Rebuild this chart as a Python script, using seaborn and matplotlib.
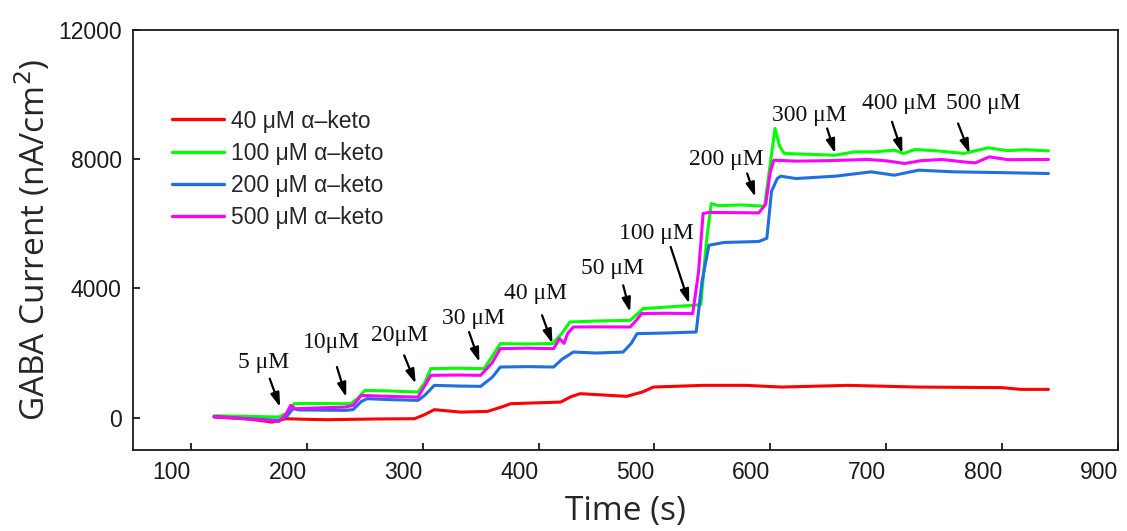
import numpy as np
import pandas as pd
import matplotlib
matplotlib.use("Agg")
import matplotlib.pyplot as plt
import seaborn as sns

# ---------------- data ----------------
series_names = ["40 μM α–keto", "100 μM α–keto", "200 μM α–keto", "500 μM α–keto"]

t_40 = [120, 150, 170, 182, 200, 218, 260, 293, 302, 310, 333, 356, 368, 376, 419,
        428, 436, 476, 490, 499, 542, 579, 610, 667, 727, 800, 816, 840]
v_40 = [20, -40, -136, -31, -50, -62, -40, -31, 100, 248, 173, 195, 330, 433, 483,
        650, 743, 660, 800, 948, 1000, 1000, 948, 1000, 948, 930, 876, 876]

t_100 = [120, 150, 176, 183, 189, 200, 238, 244, 250, 270, 296, 302, 307, 330, 353,
         360, 367, 390, 412, 420, 427, 450, 479, 485, 490, 510, 533, 540, 545, 549,
         555, 575, 595, 599, 604, 608, 612, 630, 656, 673, 690, 707, 715, 725, 745,
         767, 788, 805, 820, 840]
v_100 = [60, 40, 20, 150, 433, 440, 433, 600, 845, 830, 793, 1100, 1517, 1530, 1517,
         1900, 2291, 2280, 2291, 2600, 2960, 2990, 3012, 3200, 3374, 3420, 3477, 3500, 5500, 6625,
         6560, 6580, 6540, 7600, 8947, 8400, 8173, 8150, 8120, 8223, 8223, 8275, 8173, 8297, 8250,
         8173, 8347, 8260, 8290, 8254]

t_200 = [120, 150, 176, 183, 188, 193, 233, 240, 247, 252, 270, 296, 302, 310, 330,
         350, 360, 367, 390, 413, 420, 430, 450, 473, 480, 485, 510, 536, 541, 547,
         560, 590, 597, 601, 606, 609, 622, 656, 687, 707, 728, 759, 800, 840]
v_200 = [30, -30, -85, 50, 279, 240, 226, 250, 500, 588, 560, 536, 700, 1000, 980,
         969, 1250, 1567, 1580, 1567, 1800, 2031, 2000, 2031, 2300, 2600, 2620, 2650, 4200, 5334,
         5420, 5450, 5550, 7000, 7400, 7470, 7398, 7470, 7604, 7501, 7656, 7604, 7580, 7553]

t_500 = [120, 150, 176, 182, 186, 190, 233, 240, 247, 270, 296, 302, 307, 330, 350,
         360, 367, 390, 413, 418, 422, 425, 430, 450, 479, 484, 489, 510, 533, 538,
         542, 547, 590, 596, 600, 603, 622, 650, 684, 700, 716, 730, 748, 770, 777,
         789, 805, 840]
v_500 = [40, -40, -115, 100, 381, 279, 328, 380, 690, 660, 638, 1000, 1310, 1320, 1310,
         1700, 2136, 2150, 2136, 2450, 2300, 2600, 2805, 2810, 2805, 3000, 3220, 3230, 3220, 4500,
         6316, 6350, 6335, 6600, 7600, 7966, 7935, 7950, 7987, 7945, 7863, 7950, 7987, 7900, 7883,
         8068, 7980, 7987]

x_ticks = [100, 200, 300, 400, 500, 600, 700, 800, 900]
y_ticks = [0, 4000, 8000, 12000]

ann_labels = ["5 μM", "10μM", "20μM", "30 μM", "40 μM", "50 μM", "100 μM",
              "200 μM", "300 μM", "400 μM", "500 μM"]
ann_text_xy = [(163, 1721), (221, 2340), (280, 2548), (344, 3065), (397, 3839),
               (464, 4613), (502, 5697), (562, 7988), (634, 9359), (711, 9731),
               (784, 9721)]
ann_arrow_from = [(168, 1207), (226, 1567), (284, 1929), (340, 2650), (403, 3167),
                  (473, 4096), (514, 5282), (580, 7554), (649, 8947), (705, 9152),
                  (762, 9102)]
ann_arrow_to = [(177, 328), (234, 638), (294, 1053), (349, 1721), (412, 2291),
                (479, 3269), (530, 3529), (587, 6830), (656, 8173), (714, 8173),
                (772, 8173)]

colors = ["#ff0000", "#00ff00", "#1f6fe0", "#ff00ff"]

# ---------------- build dataframe ----------------
frames = []
for name, t, v in zip(series_names, [t_40, t_100, t_200, t_500],
                      [v_40, v_100, v_200, v_500]):
    frames.append(pd.DataFrame({"Time": t, "Current": v, "Series": name}))
df = pd.concat(frames, ignore_index=True)

# ---------------- plot ----------------
sns.set_theme(style="ticks")
plt.rcParams["font.family"] = ["Liberation Sans", "DejaVu Sans"]

fig = plt.figure(figsize=(11.27, 5.31), dpi=100)
ax = fig.add_axes([0.118, 0.1525, 0.874, 0.7915])

sns.lineplot(data=df, x="Time", y="Current", hue="Series", hue_order=series_names,
             palette=colors, estimator=None, sort=False, linewidth=2.2, ax=ax)

ax.set_xlim(50, 900)
ax.set_ylim(-1000, 12000)
ax.set_xticks(x_ticks)
ax.set_yticks(y_ticks)
ax.set_xticklabels([str(v) for v in x_ticks], ha="right")
ax.set_yticklabels([str(v) for v in y_ticks])
ax.tick_params(direction="in", length=5, width=1.3, labelsize=16.5, pad=8,
               colors="#1a1a1a")
for sp in ax.spines.values():
    sp.set_visible(True)
    sp.set_linewidth(1.3)
    sp.set_color("#1a1a1a")

ax.set_xlabel("Time (s)", fontsize=24, family=["Open Sans", "DejaVu Sans"], labelpad=8)
ax.set_ylabel("GABA Current (nA/cm$^2$)", fontsize=24, family=["Open Sans", "DejaVu Sans"],
              labelpad=4)

# annotations
for lab, txy, a0, a1 in zip(ann_labels, ann_text_xy, ann_arrow_from, ann_arrow_to):
    ax.text(txy[0], txy[1], lab, ha="center", va="center", fontsize=17,
            family=["Liberation Serif", "DejaVu Serif"], color="#111111")
    ax.annotate("", xy=a1, xytext=a0,
                arrowprops=dict(arrowstyle="-|>,head_length=0.7,head_width=0.22",
                                color="black", lw=1.6, shrinkA=0, shrinkB=0))

leg = ax.legend(loc="upper left", bbox_to_anchor=(0.03, 0.832), frameon=False,
                fontsize=16.5, handlelength=2.3, handletextpad=0.3, labelspacing=0.4,
                borderaxespad=0)
for line in leg.get_lines():
    line.set_linewidth(2.4)

fig.savefig("out.png", dpi=100)
